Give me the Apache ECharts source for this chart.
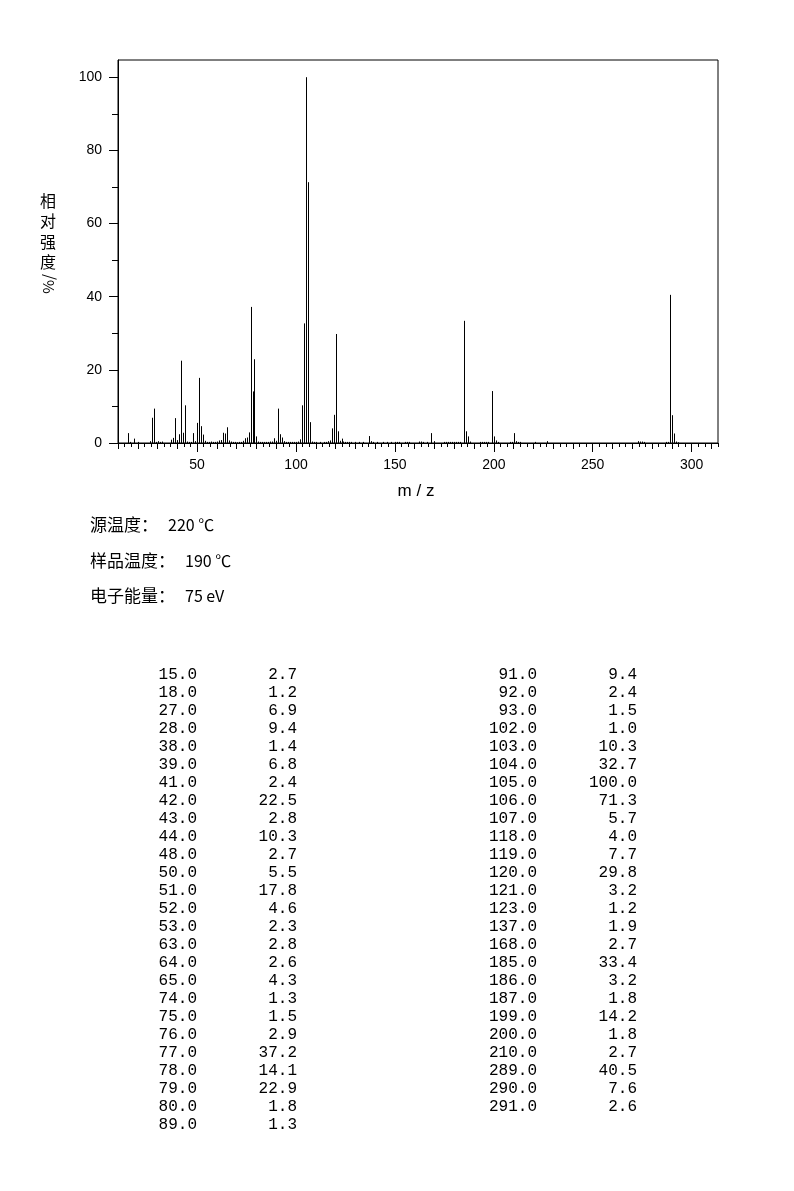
<!DOCTYPE html>
<html>
<head>
<meta charset="utf-8">
<script src="https://cdn.jsdelivr.net/npm/echarts@6/dist/echarts.min.js"></script>
<style>
html, body { margin: 0; padding: 0; background: #fff; }
#main { width: 794px; height: 1191px; }
</style>
</head>
<body>
<div id="main"></div>
<script>
// 谱峰表 (m/z 与 相对强度)
var tableMz = [15, 18, 27, 28, 38, 39, 41, 42, 43, 44, 48, 50, 51, 52, 53, 63, 64, 65, 74, 75, 76, 77, 78, 79, 80, 89,
    91, 92, 93, 102, 103, 104, 105, 106, 107, 118, 119, 120, 121, 123, 137, 168, 185, 186, 187, 199, 200, 210, 289, 290, 291];
var tableInt = [2.7, 1.2, 6.9, 9.4, 1.4, 6.8, 2.4, 22.5, 2.8, 10.3, 2.7, 5.5, 17.8, 4.6, 2.3, 2.8, 2.6, 4.3, 1.3, 1.5, 2.9, 37.2, 14.1, 22.9, 1.8, 1.3,
    9.4, 2.4, 1.5, 1.0, 10.3, 32.7, 100.0, 71.3, 5.7, 4.0, 7.7, 29.8, 3.2, 1.2, 1.9, 2.7, 33.4, 3.2, 1.8, 14.2, 1.8, 2.7, 40.5, 7.6, 2.6];
var leftRows = 26;

// 图上可见的小峰 (<1%)，目测估计
var minorMz = [16, 20, 26, 29, 30, 31, 32, 37, 40, 45, 46, 47, 49, 54, 55, 56, 57, 58, 59, 60, 61, 62, 66, 67, 68, 69, 70, 71, 72, 73,
    81, 82, 83, 84, 85, 86, 87, 88, 90, 94, 95, 96, 97, 98, 99, 100, 101, 108, 109, 110, 112, 114, 115, 116, 117, 122,
    124, 125, 126, 127, 128, 130, 132, 134, 138, 139, 141, 144, 146, 148, 150, 151, 152, 155, 156, 157, 162, 163, 164, 166, 170,
    175, 176, 177, 178, 179, 180, 181, 182, 183, 188, 193, 194, 195, 196, 197, 201, 202, 208, 209, 211, 212, 213, 221, 227,
    273, 274, 275, 276, 287, 288, 292, 293];
var minorInt = [0.3, 0.3, 0.5, 0.3, 0.5, 0.3, 0.4, 0.9, 0.8, 0.4, 0.3, 0.3, 0.5, 0.6, 0.3, 0.3, 0.4, 0.3, 0.3, 0.4, 0.7, 0.8, 0.7, 0.4, 0.3, 0.3, 0.2, 0.3, 0.3, 0.6,
    0.4, 0.3, 0.3, 0.3, 0.3, 0.3, 0.4, 0.4, 0.6, 0.5, 0.3, 0.3, 0.3, 0.3, 0.3, 0.3, 0.4, 0.4, 0.3, 0.3, 0.3, 0.3, 0.3, 0.5, 0.7, 0.6,
    0.4, 0.3, 0.3, 0.3, 0.3, 0.3, 0.3, 0.3, 0.5, 0.3, 0.3, 0.3, 0.3, 0.3, 0.3, 0.3, 0.3, 0.3, 0.3, 0.3, 0.4, 0.4, 0.3, 0.3, 0.5,
    0.3, 0.3, 0.3, 0.3, 0.3, 0.3, 0.3, 0.3, 0.3, 0.4, 0.3, 0.3, 0.3, 0.3, 0.3, 0.7, 0.3, 0.3, 0.3, 0.5, 0.3, 0.3, 0.3, 0.5,
    0.5, 0.4, 0.4, 0.3, 0.3, 0.3, 0.4, 0.2];

// 刻度
var xMajorTicks = [50, 100, 150, 200, 250, 300];
var xMidTicks = [10, 20, 30, 40, 60, 70, 80, 90, 110, 120, 130, 140, 160, 170, 180, 190, 210, 220, 230, 240, 260, 270, 280, 290, 310];
var yMajorTicks = [0, 20, 40, 60, 80, 100];
var yMinorTicks = [10, 30, 50, 70, 90];

// 测试条件
var infoLabels = ['源温度：', '样品温度：', '电子能量：'];
var infoValues = ['220 ℃', '190 ℃', '75 eV'];
var yNameChars = ['相', '对', '强', '度'];

var peaks = [];
for (var i = 0; i < tableMz.length; i++) peaks.push([tableMz[i], tableInt[i]]);
for (var j = 0; j < minorMz.length; j++) peaks.push([minorMz[j], minorInt[j]]);

var cjk = '"Noto Sans CJK SC", "Liberation Sans", sans-serif';
var mono = '"Liberation Mono", "DejaVu Sans Mono", monospace';

function renderPeak(params, api) {
    var top = api.coord([api.value(0), api.value(1)]);
    var base = api.coord([api.value(0), 0]);
    var x = Math.round(top[0]) + 0.5;
    return {
        type: 'line',
        shape: { x1: x, y1: base[1], x2: x, y2: top[1] },
        style: { stroke: '#000', lineWidth: 1 }
    };
}

function txt(s, x, y, align, font, size, rot) {
    return {
        type: 'text', x: x, y: y, rotation: rot || 0, silent: true,
        style: {
            text: s, fill: '#000', font: size + 'px ' + font,
            align: align, verticalAlign: 'middle',
            textAlign: align, textVerticalAlign: 'middle'
        }
    };
}

var graphics = [];
// 纵轴名
for (var k = 0; k < yNameChars.length; k++) {
    graphics.push(txt(yNameChars[k], 48, 201 + k * 20.3, 'center', cjk, 16));
}
graphics.push(txt('%/', 48, 284, 'center', cjk, 15, Math.PI / 2));
// 横轴名
graphics.push(txt('m / z', 416, 491, 'center', '"Liberation Sans", sans-serif', 17));
// 条件
for (var m = 0; m < infoLabels.length; m++) {
    var yl = 525 + m * 35.5;
    graphics.push(txt(infoLabels[m], 90, yl, 'left', cjk, 17));
    graphics.push(txt(infoValues[m], 90 + infoLabels[m].length * 17 + 10, yl, 'left', cjk, 16));
}
// 数据表
for (var r = 0; r < tableMz.length; r++) {
    var col = r < leftRows ? 0 : 1;
    var row = col ? r - leftRows : r;
    var yy = 675 + row * 18;
    var x0 = col ? 537 : 197;
    graphics.push(txt(tableMz[r].toFixed(1), x0, yy, 'right', mono, 16));
    graphics.push(txt(tableInt[r].toFixed(1), x0 + 100, yy, 'right', mono, 16));
}

var myChart = echarts.init(document.getElementById('main'));
var axisFont = { fontSize: 14, color: '#000', fontFamily: '"Liberation Sans", sans-serif' };
var option = {
    animation: false,
    backgroundColor: '#fff',
    grid: {
        left: 118, top: 60, width: 600, height: 383,
        show: true, borderColor: '#000', borderWidth: 1, backgroundColor: 'transparent'
    },
    xAxis: [
        {
            type: 'value', min: 10, max: 313.3333, interval: 10 / 3, position: 'bottom',
            axisLine: { show: true, onZero: false, lineStyle: { color: '#000', width: 1 } },
            axisTick: { show: true, length: 4, lineStyle: { color: '#000' } },
            axisLabel: { show: false },
            splitLine: { show: false }
        },
        {
            type: 'value', min: 10, max: 313.3333, position: 'bottom',
            axisLine: { show: false },
            axisTick: { show: true, length: 6, customValues: xMidTicks, lineStyle: { color: '#000' } },
            axisLabel: { show: false },
            splitLine: { show: false }
        },
        {
            type: 'value', min: 10, max: 313.3333, position: 'bottom',
            axisLine: { show: false },
            axisTick: { show: true, length: 9, customValues: xMajorTicks, lineStyle: { color: '#000' } },
            axisLabel: Object.assign({ customValues: xMajorTicks, margin: 15 }, axisFont),
            splitLine: { show: false }
        }
    ],
    yAxis: [
        {
            type: 'value', min: 0, max: 104.7, position: 'left',
            axisLine: { show: true, onZero: false, lineStyle: { color: '#000', width: 1 } },
            axisTick: { show: true, length: 9, customValues: yMajorTicks, lineStyle: { color: '#000' } },
            axisLabel: Object.assign({ customValues: yMajorTicks, margin: 16 }, axisFont),
            splitLine: { show: false }
        },
        {
            type: 'value', min: 0, max: 104.7, position: 'left',
            axisLine: { show: false },
            axisTick: { show: true, length: 6, customValues: yMinorTicks, lineStyle: { color: '#000' } },
            axisLabel: { show: false },
            splitLine: { show: false }
        }
    ],
    graphic: graphics,
    series: [{
        type: 'custom',
        xAxisIndex: 0,
        yAxisIndex: 0,
        renderItem: renderPeak,
        clip: true,
        silent: true,
        data: peaks
    }]
};
myChart.setOption(option);
</script>
</body>
</html>
